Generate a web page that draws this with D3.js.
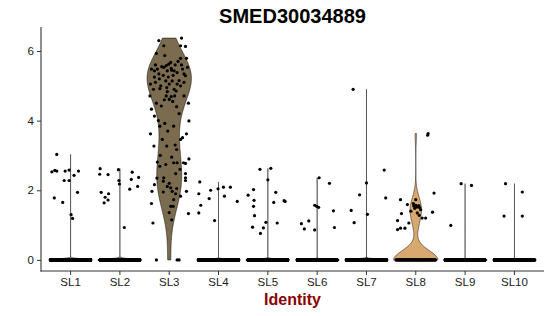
<!DOCTYPE html>
<html><head><meta charset="utf-8">
<script src="https://cdn.jsdelivr.net/npm/d3@7"></script>
<style>body{margin:0;background:#fff}svg{display:block}</style>
</head><body>
<svg id="chart" width="550" height="316"></svg>
<script>
// ---------- data ----------
const title = "SMED30034889";
const xTitle = "Identity";
const categories = ["SL1","SL2","SL3","SL4","SL5","SL6","SL7","SL8","SL9","SL10"];
const yTicks = [0, 2, 4, 6];
// number of cells with zero expression (drawn as the dense row at 0)
const zeroCounts = [3000, 3000, 0, 3000, 3000, 2500, 2500, 65, 2000, 2000];
// non-zero cells: [jitter (category units), expression]
const sl1 = [[-0.28,3.03],[-0.38,2.53],[-0.32,2.57],[-0.28,2.55],[-0.11,2.55],[-0.03,2.58],[0.07,2.43],[0.16,2.55],[-0.13,2.28],[-0.03,2.28],[0.14,1.94],[-0.33,1.78],[-0.16,1.65],[0.01,1.30],[0.04,1.19]];
const sl2 = [[-0.40,2.62],[-0.41,2.46],[-0.24,2.45],[-0.03,2.59],[-0.02,2.28],[-0.01,2.18],[0.25,2.52],[0.23,2.31],[0.38,2.37],[0.20,2.03],[0.36,2.11],[-0.38,1.94],[-0.23,1.90],[-0.30,1.80],[-0.24,1.72],[-0.32,1.64],[0.09,0.93]];
const sl3 = [[-0.21,6.30],[-0.11,6.15],[0.25,6.37],[0.23,6.15],[0.33,6.13],[-0.26,5.93],[-0.09,5.87],[0.35,5.79],[0.23,5.79],[0.37,5.53],[-0.36,5.48],
  [-0.30,5.43],[-0.24,5.48],[-0.21,5.34],[-0.11,5.53],[-0.06,5.58],[-0.04,5.43],[-0.01,5.62],[0.03,5.67],[0.10,5.43],[0.16,5.38],[0.27,5.48],[0.30,5.34],[0.33,5.29],
  [-0.38,5.05],[-0.28,5.10],[-0.17,5.00],[-0.07,5.14],[0.00,5.05],[0.06,5.14],[0.16,5.05],[0.23,5.00],[-0.32,4.90],[-0.19,4.92],[-0.04,4.83],[0.04,4.69],[-0.06,4.71],[0.00,4.61],[0.11,4.71],[0.14,4.85],[0.30,4.71],
  [-0.26,4.50],[-0.16,4.42],[0.39,4.50],[-0.39,4.71],[-0.36,4.33],[-0.30,4.13],[0.40,3.99],[-0.09,3.92],[-0.19,3.84],[0.09,3.84],[-0.38,3.62],[0.35,3.62],[-0.31,3.27],[-0.14,3.46],[0.27,3.51],[0.23,3.46],[-0.05,3.27],[0.15,3.17],
  [-0.24,2.81],[-0.19,2.69],[-0.07,2.74],[0.09,2.79],[0.16,2.79],[0.29,2.79],[0.33,2.77],[0.40,2.90],[0.13,2.48],[0.33,2.48],[0.33,2.36],[0.33,2.28],[-0.11,2.36],[-0.12,2.26],[-0.04,2.11],[0.03,2.07],[0.06,1.97],[-0.30,2.16],[-0.35,1.97],[-0.36,1.62],[-0.33,1.06],
  [0.13,1.90],[0.23,1.83],[0.35,1.97],[0.08,1.54],[0.03,1.54],[0.00,1.36],[0.05,1.15],[0.39,1.33],[0.09,1.73],
  [-0.15,5.55],[0.05,5.45],[0.12,5.60],[-0.20,5.20],[0.20,5.15],[-0.02,5.25],[0.08,5.30],[-0.28,5.60],[0.18,5.70],[-0.12,5.30],[0.25,5.60],[-0.05,4.95],[0.10,4.90],[0.04,5.50],[-0.30,5.25],[0.30,5.10],
  [-0.10,4.60],[0.07,4.55],[0.15,4.40],[-0.22,4.00],[0.20,4.20],[-0.03,3.70],[0.12,3.30],[-0.18,3.00],[0.05,2.95],[0.22,2.60],[-0.25,2.35],[0.00,2.20],[-0.12,1.95],[0.15,2.05],
  [-0.26,0],[0.16,0],[0.20,0]];
const sl4 = [[-0.38,2.24],[-0.40,1.90],[-0.36,1.57],[-0.40,1.35],[-0.16,2.00],[-0.19,1.76],[-0.01,2.04],[0.10,2.09],[0.24,2.09],[0.12,1.83],[0.38,1.68],[-0.08,1.13]];
const sl5 = [[-0.16,2.60],[0.06,2.63],[0.00,2.30],[-0.29,2.02],[0.16,1.94],[-0.40,1.86],[-0.28,1.71],[0.33,1.70],[0.35,1.68],[0.12,1.65],[-0.29,1.54],[-0.27,1.27],[-0.04,1.08],[0.19,1.06],[-0.31,0.94],[-0.09,0.92],[-0.15,0.76]];
const sl6 = [[0.04,2.36],[0.25,2.20],[-0.05,1.57],[-0.01,1.54],[0.03,1.51],[0.33,1.41],[-0.17,1.12],[-0.32,1.04],[-0.26,0.89],[-0.05,0.86],[0.35,0.93]];
const sl7 = [[-0.27,4.90],[0.00,2.21],[0.36,2.58],[-0.14,1.87],[0.39,1.78],[-0.31,1.42],[0.02,1.31],[-0.25,1.07]];
const sl8 = [[0.25,3.63],[0.24,3.58],[0.37,1.92],[-0.31,1.73],[0.00,1.73],[-0.17,1.59],[-0.04,1.55],[0.00,1.57],[0.03,1.52],[-0.02,1.48],[0.06,1.56],[0.10,1.44],[0.03,1.35],[0.07,1.28],[0.13,1.20],[0.20,1.20],[0.34,1.37],[-0.29,1.33],[-0.37,1.13],[-0.14,1.06],[-0.31,0.91],[-0.37,0.87],[-0.22,0.91],[-0.10,1.40],[-0.05,1.62],[0.08,1.50]];
const sl9 = [[-0.08,2.19],[0.13,2.14],[-0.29,0.99]];
const sl10 = [[-0.18,2.19],[0.16,1.95],[-0.21,1.26],[0.16,1.26]];
const groupPoints = [sl1, sl2, sl3, sl4, sl5, sl6, sl7, sl8, sl9, sl10];
const fills = ["#9a9a9a","#8a8a8a","#7b6c4f","#9a9a9a","#808080","#2e2e2e","#262626","#d8a86e","#9a9a9a","#3a3a3a"];

// ---------- layout ----------
const svg = d3.select("#chart");
const mLeft = 41, mRight = 544, mTop = 27, mBottom = 271;

const groups = categories.map((c, i) => {
  const zeros = d3.range(zeroCounts[i]).map(k => [zeroCounts[i] > 1 ? -0.4 + 0.8 * k / (zeroCounts[i] - 1) : 0, 0]);
  const pts = groupPoints[i].concat(zeros);
  return { cat: c, pts, values: pts.map(p => p[1]), fill: fills[i] };
});

const allVals = groups.flatMap(g => g.values);
const yMin = d3.min(allVals), yMax = d3.max(allVals);
const pad = (yMax - yMin) * 0.05;
const y = d3.scaleLinear().domain([yMin - pad, yMax + pad]).range([mBottom, mTop]);
const x = d3.scaleBand().domain(categories).range([mLeft, mRight]).paddingInner(0).paddingOuter(0.1);
const bw = x.bandwidth();
const cx = c => x(c) + bw / 2;

// gaussian KDE with R's bw.nrd0, trimmed to data range
function kde(vals) {
  const s = vals.slice().sort(d3.ascending);
  const n = s.length;
  const sd = d3.deviation(s) || 0;
  const iqr = d3.quantile(s, 0.75) - d3.quantile(s, 0.25);
  let lo = Math.min(sd, iqr / 1.34);
  if (!(lo > 0)) lo = sd || Math.abs(s[0]) || 1;
  const h = 0.9 * lo * Math.pow(n, -0.2);
  const mn = s[0], mx = s[n - 1];
  const grid = d3.range(512).map(k => mn + (mx - mn) * k / 511);
  const c = 1 / (n * h * Math.sqrt(2 * Math.PI));
  return grid.map(t => {
    let sum = 0;
    for (let j = 0; j < n; j++) { const u = (t - s[j]) / h; if (u < 8 && u > -8) sum += Math.exp(-0.5 * u * u); }
    return [t, sum * c];
  });
}

// violins
groups.forEach(g => {
  const d = kde(g.values);
  const dmax = d3.max(d, e => e[1]);
  const w = d3.scaleLinear().domain([0, dmax]).range([0, bw * 0.45]);
  const area = d3.area()
    .x0(e => cx(g.cat) - w(e[1]))
    .x1(e => cx(g.cat) + w(e[1]))
    .y(e => y(e[0]));
  svg.append("path").attr("d", area(d))
    .attr("fill", g.fill).attr("stroke", "#000").attr("stroke-width", 0.5);
});

// jittered points
groups.forEach(g => {
  svg.append("g").selectAll("circle").data(g.pts).join("circle")
    .attr("cx", p => cx(g.cat) + p[0] * bw)
    .attr("cy", p => y(p[1]))
    .attr("r", 1.6)
    .attr("fill", "#000");
});

// axes
const yAxis = d3.axisLeft(y).tickValues(yTicks).tickFormat(d3.format("d")).tickSize(4).tickPadding(3);
const yg = svg.append("g").attr("transform", `translate(${mLeft},0)`).call(yAxis);
yg.select(".domain").remove();
svg.append("line").attr("x1", mLeft).attr("x2", mLeft).attr("y1", mTop).attr("y2", mBottom + 0.5)
  .attr("stroke", "#333").attr("stroke-width", 1.1);

const xAxis = d3.axisBottom(x).tickSize(4).tickPadding(3);
const xg = svg.append("g").attr("transform", `translate(0,${mBottom})`).call(xAxis);
xg.select(".domain").remove();
svg.append("line").attr("x1", mLeft - 0.5).attr("x2", mRight).attr("y1", mBottom).attr("y2", mBottom)
  .attr("stroke", "#333").attr("stroke-width", 1.1);

[yg, xg].forEach(g => {
  g.selectAll(".tick line").attr("stroke", "#333");
  g.selectAll(".tick text").attr("fill", "#1a1a1a")
    .attr("font-family", "Liberation Sans, Arial, sans-serif").attr("font-size", 11.5);
});

// titles
svg.append("text").attr("x", (mLeft + mRight) / 2).attr("y", 23).attr("text-anchor", "middle")
  .attr("font-family", "Liberation Sans, Arial, sans-serif").attr("font-weight", "bold")
  .attr("font-size", 20).attr("fill", "#000").text(title);
svg.append("text").attr("x", (mLeft + mRight) / 2).attr("y", 305).attr("text-anchor", "middle")
  .attr("font-family", "Liberation Sans, Arial, sans-serif").attr("font-weight", "bold")
  .attr("font-size", 16).attr("fill", "#8b0000").text(xTitle);
</script>
</body></html>
